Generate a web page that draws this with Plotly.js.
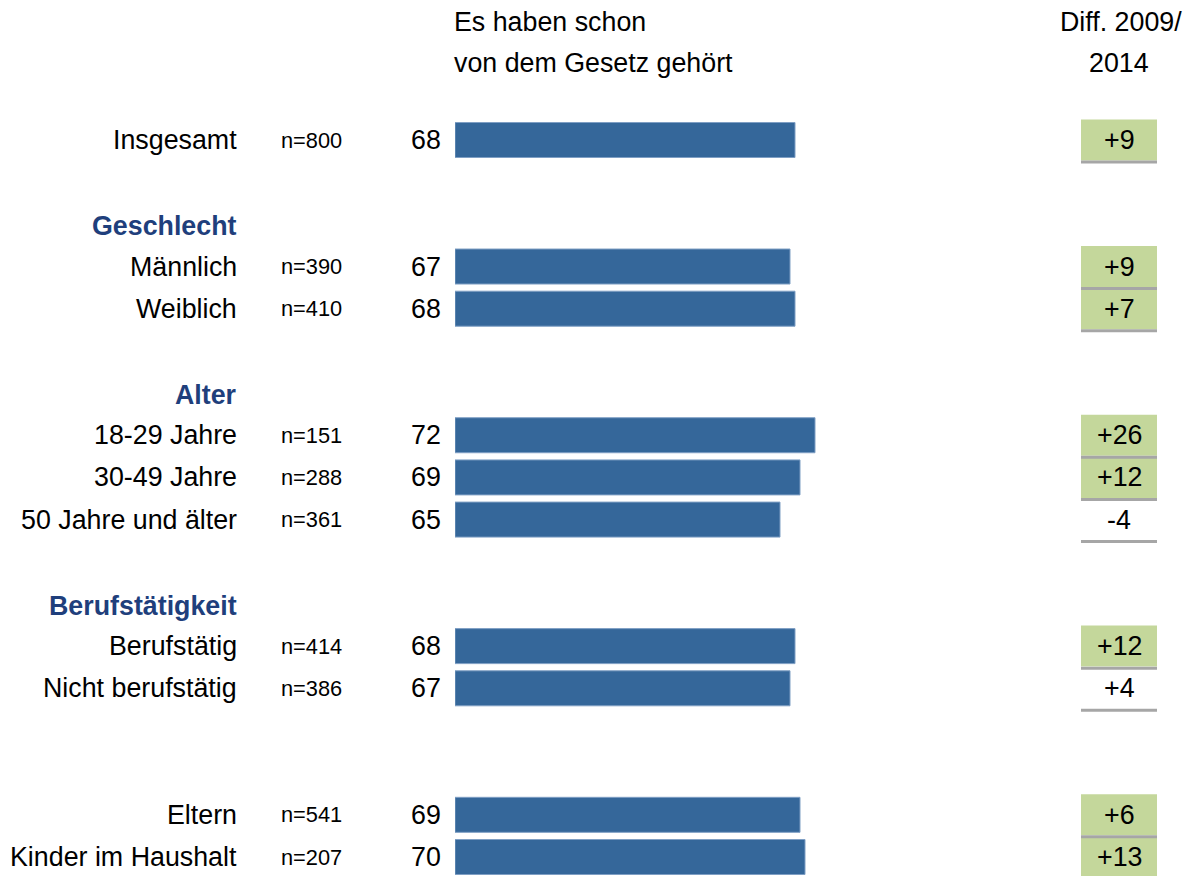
<!DOCTYPE html>
<html>
<head>
<meta charset="utf-8">
<script src="https://cdn.plot.ly/plotly-3.0.1.min.js"></script>
<style>html,body{margin:0;padding:0;background:#fff;}#chart{width:1183px;height:876px;}</style>
</head>
<body>
<div id="chart"></div>
<script>
// Row labels (top to bottom); "" = blank spacer row
const labels = ["Insgesamt", "", "Geschlecht", "Männlich", "Weiblich", "", "Alter", "18-29 Jahre", "30-49 Jahre", "50 Jahre und älter", "", "Berufstätigkeit", "Berufstätig", "Nicht berufstätig", "", "", "Eltern", "Kinder im Haushalt"];
const isHeader = [false, false, true, false, false, false, true, false, false, false, false, true, false, false, false, false, false, false];
const sampleSizes = [800, null, null, 390, 410, null, null, 151, 288, 361, null, null, 414, 386, null, null, 541, 207];
const values = [68, null, null, 67, 68, null, null, 72, 69, 65, null, null, 68, 67, null, null, 69, 70];
const diffs = ["+9", null, null, "+9", "+7", null, null, "+26", "+12", "-4", null, null, "+12", "+4", null, null, "+6", "+13"];
const significant = [true, false, false, true, true, false, false, true, true, false, false, false, true, false, false, false, true, true];
const headerLine1 = "Es haben schon";
const headerLine2 = "von dem Gesetz gehört";
const diffHeader1 = "Diff. 2009/";
const diffHeader2 = "2014";

const W = 1183, H = 876;
const FONT = "Liberation Sans, Arial, sans-serif";
const rows = labels.map((_, i) => i);

const annotations = [];
const shapes = [];

rows.forEach(i => {
  if (labels[i]) {
    annotations.push({
      xref: "paper", yref: "y", x: 239 / W, y: i, yshift: isHeader[i] ? -2 : 0,
      xanchor: "right", yanchor: "middle",
      text: isHeader[i] ? "<b>" + labels[i] + "</b>" : labels[i], showarrow: false,
      font: {family: FONT, size: 26.8, color: isHeader[i] ? "#1f3f7c" : "#000"}
    });
  }
  if (sampleSizes[i] != null) {
    annotations.push({
      xref: "paper", yref: "y", x: 279 / W, y: i, xanchor: "left", yanchor: "middle",
      text: "n=" + sampleSizes[i], showarrow: false,
      font: {family: FONT, size: 21.8, color: "#000"}
    });
  }
  if (values[i] != null) {
    annotations.push({
      xref: "x", yref: "y", x: 0, xshift: -12, y: i, xanchor: "right", yanchor: "middle",
      text: String(values[i]), showarrow: false,
      font: {family: FONT, size: 26.8, color: "#000"}
    });
  }
  if (diffs[i] != null) {
    if (significant[i]) {
      shapes.push({type: "rect", xref: "paper", yref: "y", x0: 1081 / W, x1: 1157 / W,
        y0: i - 0.486, y1: i + 0.486, fillcolor: "#c4d79b", line: {width: 0}, layer: "below"});
    }
    shapes.push({type: "line", xref: "paper", yref: "y", x0: 1081 / W, x1: 1157 / W,
      y0: i + 0.522, y1: i + 0.522, line: {color: "#a6a6a6", width: 3}});
    annotations.push({
      xref: "paper", yref: "y", x: 1119 / W, y: i, xanchor: "center", yanchor: "middle",
      text: diffs[i], showarrow: false,
      font: {family: FONT, size: 26.8, color: "#000"}
    });
  }
});

annotations.push({xref: "paper", yref: "paper", x: 452 / W, y: 1 - 22 / H, xanchor: "left", yanchor: "middle",
  text: headerLine1, showarrow: false, font: {family: FONT, size: 26.8, color: "#000"}});
annotations.push({xref: "paper", yref: "paper", x: 452 / W, y: 1 - 63 / H, xanchor: "left", yanchor: "middle",
  text: headerLine2, showarrow: false, font: {family: FONT, size: 26.8, color: "#000"}});
annotations.push({xref: "paper", yref: "paper", x: 1121 / W, y: 1 - 22 / H, xanchor: "center", yanchor: "middle",
  text: diffHeader1, showarrow: false, font: {family: FONT, size: 26.8, color: "#000"}});
annotations.push({xref: "paper", yref: "paper", x: 1119 / W, y: 1 - 63 / H, xanchor: "center", yanchor: "middle",
  text: diffHeader2, showarrow: false, font: {family: FONT, size: 26.8, color: "#000"}});

const trace = {
  type: "bar", orientation: "h", x: values, y: rows, width: 0.83,
  marker: {color: "#35679a", line: {color: "#7f9fc4", width: 1}},
  hoverinfo: "skip"
};

const pitch = (857 - 140) / 17;
const layout = {
  width: W, height: H, margin: {l: 0, r: 0, t: 0, b: 0},
  paper_bgcolor: "#fff", plot_bgcolor: "#fff", showlegend: false,
  xaxis: {domain: [455 / W, 1], range: [0, (W - 455) / 5], visible: false, fixedrange: true},
  yaxis: {range: [17 + (H - 857) / pitch, -140 / pitch], visible: false, fixedrange: true},
  annotations: annotations, shapes: shapes,
  font: {family: FONT}
};

Plotly.newPlot("chart", [trace], layout, {displayModeBar: false, staticPlot: true});
</script>
</body>
</html>
